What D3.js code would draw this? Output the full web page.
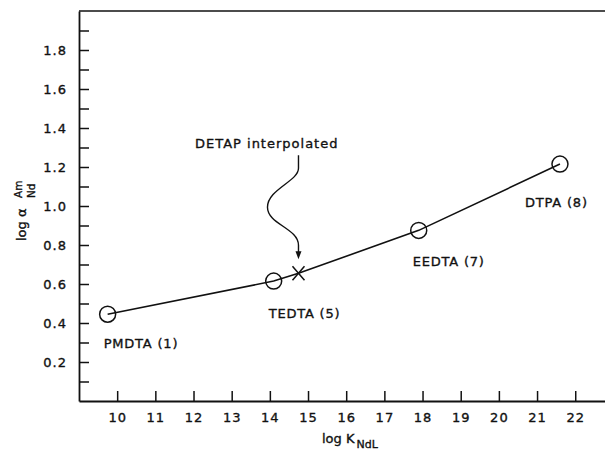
<!DOCTYPE html>
<html>
<head>
<meta charset="utf-8">
<script src="https://cdn.jsdelivr.net/npm/d3@7"></script>
<style>
  body { margin: 0; background: #fff; }
  svg { display: block; }
  text { font-family: "DejaVu Sans", sans-serif; fill: #111; stroke: #111; stroke-width: 0.35px; }
  .axis path, .axis line { stroke: #111; }
</style>
</head>
<body>
<svg width="605" height="450"></svg>
<script>
// ligands measured on the curve
const ligands = ['PMDTA (1)', 'TEDTA (5)', 'EEDTA (7)', 'DTPA (8)'];
const logK = [9.75, 14.1, 17.9, 21.6];
const logAlpha = [0.445, 0.615, 0.875, 1.215];

// DETAP, interpolated on the curve
const detapName = 'DETAP interpolated';
const detapK = 14.75;
const detapAlpha = 0.655;

const xTicks = [10, 11, 12, 13, 14, 15, 16, 17, 18, 19, 20, 21, 22];
const yTicks = [0.1, 0.2, 0.3, 0.4, 0.5, 0.6, 0.7, 0.8, 0.9, 1.0, 1.1, 1.2, 1.3, 1.4, 1.5, 1.6, 1.7, 1.8, 1.9];

const svg = d3.select('svg');

const x = d3.scaleLinear().domain([9, 22.78]).range([79, 605]);
const y = d3.scaleLinear().domain([0, 2]).range([401, 11]);

// frame line on top
svg.append('line')
  .attr('x1', x.range()[0]).attr('x2', x.range()[1])
  .attr('y1', y(2)).attr('y2', y(2))
  .attr('stroke', '#111').attr('stroke-width', 1.6);

svg.append('g')
  .attr('class', 'axis')
  .attr('transform', `translate(0,${y(0)})`)
  .call(d3.axisBottom(x).tickValues(xTicks).tickSizeInner(-10).tickSizeOuter(0).tickPadding(12).tickFormat(d3.format('d')));

svg.append('g')
  .attr('class', 'axis')
  .attr('transform', `translate(${x(9)},0)`)
  .call(d3.axisLeft(y).tickValues(yTicks).tickSizeInner(-10).tickSizeOuter(0).tickPadding(12)
    .tickFormat(d => Math.round(d * 10) % 2 === 0 ? d3.format('.1f')(d) : ''));

svg.selectAll('.axis path').attr('stroke-width', 1.8);
svg.selectAll('.axis line').attr('stroke-width', 1.5);
svg.selectAll('.axis text')
  .style('font-size', '13px')
  .style('letter-spacing', '1px')
  .attr('fill', '#111');

// axis titles
const xt = svg.append('text')
  .attr('x', 322).attr('y', 443)
  .style('font-size', '13px');
xt.append('tspan').text('log K');
xt.append('tspan').attr('dx', 2).attr('dy', 5).style('font-size', '11px').text('NdL');

const yt = svg.append('g').attr('transform', 'translate(26,241) rotate(-90)');
yt.append('text').attr('x', 0).attr('y', 0).style('font-size', '13px').text('log α');
yt.append('text').attr('x', 43).attr('y', -4).style('font-size', '10.5px').text('Am');
yt.append('text').attr('x', 43).attr('y', 9).style('font-size', '10.5px').text('Nd');

// curve through all points, ordered by log K
const pts = logK.map((k, i) => ({ k, a: logAlpha[i] }));
pts.push({ k: detapK, a: detapAlpha });
pts.sort((p, q) => p.k - q.k);

svg.append('path')
  .datum(pts)
  .attr('fill', 'none')
  .attr('stroke', '#111')
  .attr('stroke-width', 1.6)
  .attr('d', d3.line().x(d => x(d.k)).y(d => y(d.a)));

svg.selectAll('.pt')
  .data(logK)
  .join('circle')
  .classed('pt', true)
  .attr('cx', d => x(d))
  .attr('cy', (d, i) => y(logAlpha[i]))
  .attr('r', 8)
  .attr('fill', 'none')
  .attr('stroke', '#111')
  .attr('stroke-width', 1.5);

// label offsets from each point
const labelOffset = [[-4, 34], [-5, 37], [-6, 36], [-35, 43]];
svg.selectAll('.lbl')
  .data(ligands)
  .join('text')
  .classed('lbl', true)
  .attr('x', (d, i) => x(logK[i]) + labelOffset[i][0])
  .attr('y', (d, i) => y(logAlpha[i]) + labelOffset[i][1])
  .style('font-size', '13px')
  .style('letter-spacing', '0.8px')
  .text(d => d);

// DETAP cross
const cx = x(detapK), cy = y(detapAlpha);
svg.append('path')
  .attr('d', `M${cx - 6},${cy - 7}L${cx + 6},${cy + 7}M${cx + 6},${cy - 7}L${cx - 6},${cy + 7}`)
  .attr('stroke', '#111').attr('stroke-width', 1.5).attr('fill', 'none');

// wavy arrow from the note down to the cross
const t0 = cy - 118;
svg.append('path')
  .attr('d', `M${cx},${t0}L${cx},${t0 + 13}C${cx},${t0 + 26} ${cx - 31},${t0 + 34} ${cx - 31},${t0 + 52}`
    + `C${cx - 31},${t0 + 69} ${cx},${t0 + 73} ${cx},${t0 + 90}L${cx},${t0 + 97}`)
  .attr('fill', 'none').attr('stroke', '#111').attr('stroke-width', 1.4);
svg.append('path')
  .attr('d', `M${cx - 3},${t0 + 96}L${cx + 3},${t0 + 96}L${cx},${t0 + 104}Z`)
  .attr('fill', '#111');

svg.append('text')
  .attr('x', 195).attr('y', t0 - 7)
  .style('font-size', '13px')
  .style('letter-spacing', '1px')
  .text(detapName);
</script>
</body>
</html>
